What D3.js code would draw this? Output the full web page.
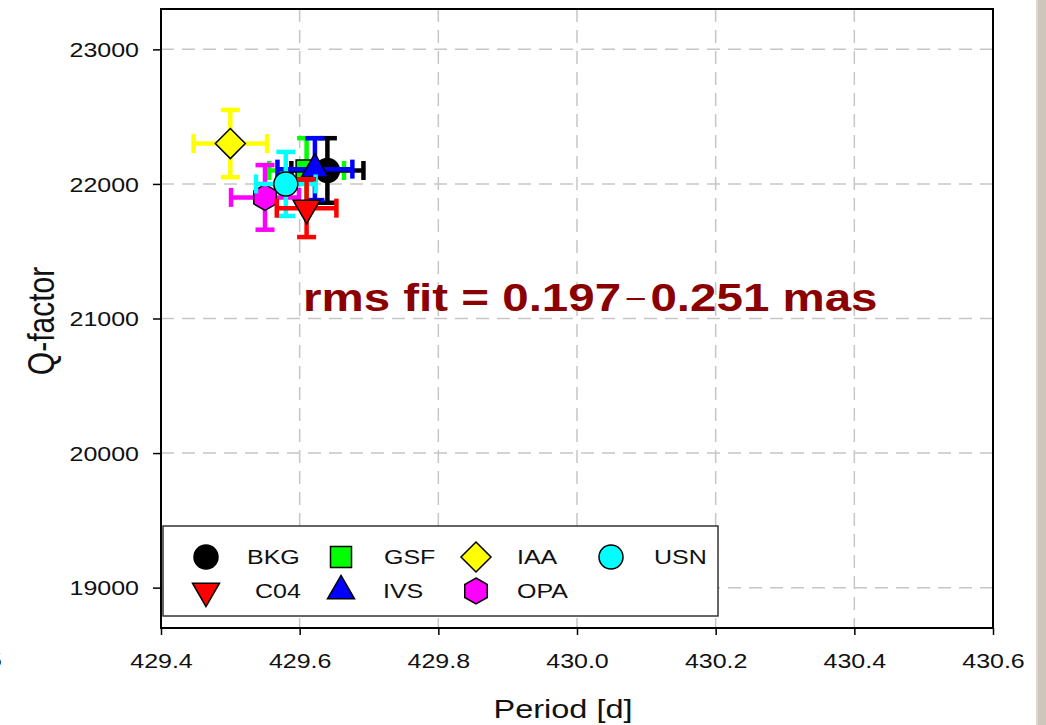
<!DOCTYPE html>
<html>
<head>
<meta charset="utf-8">
<script src="https://cdn.jsdelivr.net/npm/d3@7"></script>
<style>
  html, body { margin: 0; padding: 0; background: #ffffff; }
  svg { display: block; }
</style>
</head>
<body>
<svg id="chart" width="1046" height="725"></svg>
<script>
// ---------- data ----------
const seriesNames = ["GSF", "BKG", "IVS", "IAA", "OPA", "USN", "C04"];   // drawing order
const periodValues = [429.61, 429.64, 429.622, 429.50, 429.55, 429.58, 429.61];
const periodErrors = [0.054, 0.052, 0.054, 0.053, 0.049, 0.043, 0.043];
const qValues = [22100, 22100, 22110, 22300, 21900, 22000, 21820];
const qErrors = [240, 240, 230, 250, 240, 238, 215];
const seriesColors = ["#00ff00", "#000000", "#0000ff", "#ffff00", "#ff00ff", "#00ffff", "#ff0000"];
const seriesShapes = ["square", "circle", "triUp", "diamond", "hexagon", "circle", "triDown"];

const legendRow1 = ["BKG", "GSF", "IAA", "USN"];
const legendRow2 = ["C04", "IVS", "OPA"];

const xTickValues = [429.4, 429.6, 429.8, 430.0, 430.2, 430.4, 430.6];
const yTickValues = [19000, 20000, 21000, 22000, 23000];
const xDomain = [429.4, 430.6];
const yDomain = [18700, 23300];

const xTitle = "Period [d]";
const yTitle = "Q-factor";
const noteMain = ["rms fit = 0.197", "−", "0.251 mas"];

// ---------- layout ----------
const W = 1046, H = 725;
const pL = 161, pR = 993, pT = 9, pB = 628;
const SX = 1.25; // horizontal stretch of the reference's lettering
const FONT = "'Liberation Sans', Arial, Helvetica, sans-serif";

const svg = d3.select("#chart");
svg.append("rect").attr("width", W).attr("height", H).attr("fill", "#ffffff");

// slide background strip at the right edge
svg.append("rect").attr("x", 1036).attr("y", 0).attr("width", 10).attr("height", H).attr("fill", "#cec5bb");
svg.append("rect").attr("x", 1036).attr("y", 0).attr("width", 2).attr("height", H).attr("fill", "#ddd6ce");

// cut-off character of a neighbouring label at the left edge
svg.append("text").attr("transform", `translate(-12,667) scale(${SX},1)`)
  .attr("font-family", FONT).attr("font-size", 20).attr("fill", "#222").text("5");

const x = d3.scaleLinear().domain(xDomain).range([pL, pR]);
const y = d3.scaleLinear().domain(yDomain).range([pB, pT]);

// grid
const grid = svg.append("g").attr("stroke", "#c6c6c6").attr("stroke-width", 1.5).attr("stroke-dasharray", "13,8");
grid.selectAll("line.gx").data(xTickValues.slice(1, -1)).join("line").attr("class", "gx")
  .attr("x1", d => x(d)).attr("x2", d => x(d)).attr("y1", pT).attr("y2", pB);
grid.selectAll("line.gy").data(yTickValues).join("line").attr("class", "gy")
  .attr("y1", d => y(d)).attr("y2", d => y(d)).attr("x1", pL).attr("x2", pR);

// axes
const xAxis = svg.append("g").attr("transform", `translate(0,${pB})`)
  .call(d3.axisBottom(x).tickValues(xTickValues).tickSize(7).tickSizeOuter(0).tickFormat(d3.format(".1f")));
const yAxis = svg.append("g").attr("transform", `translate(${pL},0)`)
  .call(d3.axisLeft(y).tickValues(yTickValues).tickSize(8).tickSizeOuter(0).tickFormat(d3.format("d")));
[xAxis, yAxis].forEach(a => {
  a.select(".domain").remove();
  a.selectAll(".tick line").attr("stroke", "#000").attr("stroke-width", 1.5);
  a.selectAll(".tick text").attr("font-family", FONT).attr("font-size", 20).attr("fill", "#111");
});
xAxis.selectAll(".tick text").attr("y", null).attr("dy", null)
  .attr("transform", `translate(0,40) scale(${SX},1)`);
yAxis.selectAll(".tick text").attr("x", null).attr("dy", "0.36em")
  .attr("transform", `translate(-22,0) scale(${SX},1)`);

// frame
svg.append("rect").attr("x", pL).attr("y", pT).attr("width", pR - pL).attr("height", pB - pT)
  .attr("fill", "none").attr("stroke", "#000").attr("stroke-width", 2);

// axis titles
svg.append("text").attr("transform", `translate(563,718) scale(${SX},1)`)
  .attr("text-anchor", "middle").attr("font-family", FONT).attr("font-size", 26).attr("fill", "#111").text(xTitle);
svg.append("text").attr("transform", `translate(40,321) scale(${SX},1) rotate(-90)`)
  .attr("text-anchor", "middle").attr("dy", "0.36em").attr("font-family", FONT).attr("font-size", 30).attr("fill", "#111").text(yTitle);

// ---------- markers ----------
function shapePath(kind) {
  if (kind === "circle") return d3.symbol(d3.symbolCircle, Math.PI * 12 * 12)();
  if (kind === "square") return d3.symbol(d3.symbolSquare, 21 * 21)();
  if (kind === "diamond") { const r = 15; return `M0,${-r}L${r},0L0,${r}L${-r},0Z`; }
  if (kind === "triUp" || kind === "triDown") return d3.symbol(d3.symbolTriangle, Math.sqrt(3) / 4 * 27 * 27)();
  if (kind === "hexagon") {
    const r = 13; const pts = d3.range(6).map(i => { const a = Math.PI / 3 * i - Math.PI / 2; return [r * Math.cos(a), r * Math.sin(a)]; });
    return "M" + pts.map(p => p.join(",")).join("L") + "Z";
  }
}
function drawMarker(g, kind, cx, cy, color) {
  const rot = kind === "triDown" ? " rotate(180)" : "";
  g.append("path").attr("d", shapePath(kind)).attr("transform", `translate(${cx},${cy})${rot}`)
    .attr("fill", color).attr("stroke", "#000").attr("stroke-width", 1.5);
}

const plot = svg.append("g");
const cap = 9.5;
seriesNames.forEach((name, i) => {
  const g = plot.append("g");
  const cx = x(periodValues[i]), cy = y(qValues[i]);
  const x0 = x(periodValues[i] - periodErrors[i]), x1 = x(periodValues[i] + periodErrors[i]);
  const y0 = y(qValues[i] - qErrors[i]), y1 = y(qValues[i] + qErrors[i]);
  const col = seriesColors[i];
  const eb = g.append("g").attr("stroke", col).attr("stroke-width", 4.5).attr("stroke-linecap", "butt");
  eb.append("line").attr("x1", x0).attr("x2", x1).attr("y1", cy).attr("y2", cy);
  eb.append("line").attr("x1", cx).attr("x2", cx).attr("y1", y0).attr("y2", y1);
  eb.append("line").attr("x1", x0).attr("x2", x0).attr("y1", cy - cap).attr("y2", cy + cap);
  eb.append("line").attr("x1", x1).attr("x2", x1).attr("y1", cy - cap).attr("y2", cy + cap);
  eb.append("line").attr("x1", cx - cap).attr("x2", cx + cap).attr("y1", y0).attr("y2", y0);
  eb.append("line").attr("x1", cx - cap).attr("x2", cx + cap).attr("y1", y1).attr("y2", y1);
  drawMarker(g, seriesShapes[i], cx, cy, col);
});

// annotation
const note = svg.append("text").attr("transform", `translate(303,311) scale(${SX},1)`)
  .attr("font-family", FONT).attr("font-size", 38).attr("font-weight", "bold").attr("fill", "#8b0000");
note.append("tspan").text(noteMain[0]);
note.append("tspan").attr("font-weight", "normal").attr("font-size", 30).attr("dx", 3).attr("dy", -2).text(noteMain[1]);
note.append("tspan").attr("dx", 3).attr("dy", 2).text(noteMain[2]);

// ---------- legend ----------
const lg = svg.append("g");
lg.append("rect").attr("x", 163).attr("y", 526).attr("width", 555).attr("height", 90)
  .attr("fill", "#fff").attr("stroke", "#333").attr("stroke-width", 1.5);
const legendColX = [206, 341, 476, 611];
const legendTextX = [[247, 384, 517, 654], [255, 383, 517]];
const legendRowY = [557, 591];
[legendRow1, legendRow2].forEach((row, r) => {
  row.forEach((name, c) => {
    const i = seriesNames.indexOf(name);
    drawMarker(lg, seriesShapes[i], legendColX[c], legendRowY[r], seriesColors[i]);
    lg.append("text").attr("transform", `translate(${legendTextX[r][c]},${legendRowY[r]}) scale(${SX},1)`)
      .attr("dy", "0.36em").attr("font-family", FONT).attr("font-size", 20).attr("fill", "#111").text(name);
  });
});
</script>
</body>
</html>
